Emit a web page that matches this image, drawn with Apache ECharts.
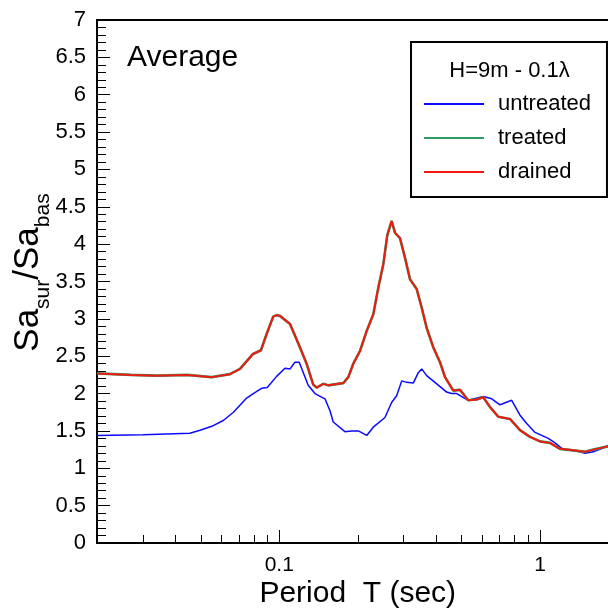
<!DOCTYPE html>
<html><head><meta charset="utf-8">
<script src="https://cdn.jsdelivr.net/npm/echarts@6/dist/echarts.min.js"></script>
<style>html,body{margin:0;padding:0;background:#fff}#c{width:608px;height:609px}</style>
</head><body><div id="c"></div>
<script>
// ---- data ----
const periodsUntreated = [0.02,0.03,0.0454,0.0497,0.0558,0.061,0.0667,0.075,0.0795,0.0855,0.0899,0.0977,0.1052,0.11,0.1148,0.1193,0.1291,0.1371,0.1497,0.1565,0.1611,0.1786,0.1896,0.2011,0.2165,0.2294,0.2543,0.2698,0.282,0.2949,0.3081,0.3266,0.3413,0.3518,0.3675,0.4017,0.4385,0.4584,0.479,0.5307,0.6059,0.653,0.7024,0.7787,0.8381,0.8893,0.9568,1.076,1.142,1.228,1.383,1.488,1.602,1.803,2.0];
const untreated = [1.44,1.45,1.47,1.51,1.57,1.64,1.75,1.94,2.00,2.07,2.08,2.23,2.34,2.33,2.42,2.42,2.11,2.00,1.93,1.77,1.62,1.49,1.50,1.50,1.44,1.55,1.68,1.88,1.97,2.17,2.15,2.14,2.28,2.33,2.24,2.13,2.02,2.00,2.00,1.91,1.96,1.93,1.85,1.91,1.71,1.60,1.48,1.40,1.34,1.25,1.23,1.20,1.22,1.29,1.33];
const periodsTreated = [0.02,0.027,0.034,0.0443,0.0551,0.0647,0.0707,0.0793,0.0851,0.0895,0.0948,0.0977,0.1006,0.11,0.12,0.1273,0.135,0.1391,0.1475,0.1541,0.176,0.184,0.1923,0.204,0.2165,0.2294,0.2399,0.2506,0.2596,0.2698,0.278,0.2904,0.3035,0.3172,0.3365,0.3518,0.3675,0.3896,0.4134,0.4322,0.4648,0.4934,0.5307,0.5719,0.6059,0.643,0.6918,0.767,0.8381,0.9155,1.0,1.092,1.193,1.342,1.488,1.602,1.803,2.0];
const treated = [2.27,2.25,2.24,2.25,2.22,2.26,2.33,2.53,2.58,2.80,3.03,3.05,3.04,2.93,2.62,2.40,2.12,2.08,2.13,2.11,2.14,2.22,2.40,2.57,2.84,3.06,3.42,3.73,4.12,4.31,4.15,4.08,3.82,3.53,3.40,3.15,2.88,2.62,2.42,2.22,2.04,2.05,1.91,1.92,1.95,1.82,1.69,1.66,1.51,1.42,1.36,1.34,1.26,1.24,1.22,1.25,1.29,1.32];
const periodsDrained = periodsTreated.slice();
const drained = [2.27,2.25,2.24,2.25,2.22,2.26,2.33,2.53,2.58,2.80,3.03,3.05,3.04,2.93,2.62,2.40,2.12,2.08,2.13,2.11,2.14,2.22,2.40,2.57,2.84,3.06,3.42,3.73,4.12,4.31,4.15,4.08,3.82,3.53,3.40,3.15,2.88,2.62,2.42,2.22,2.04,2.05,1.91,1.92,1.95,1.82,1.69,1.66,1.51,1.42,1.36,1.34,1.26,1.24,1.22,1.25,1.29,1.32];
const seriesNames = ['untreated','treated','drained'];
const xMajorTicks = [0.1, 1];
const xMinorTicks = [0.03,0.04,0.05,0.06,0.07,0.08,0.09,0.2,0.3,0.4,0.5,0.6,0.7,0.8,0.9];
const legendTitle = 'H=9m - 0.1\u03bb';
const panelTitle = 'Average';

const FF = '"Liberation Sans", Arial, sans-serif';
const pair = (xs, ys) => xs.map((x, i) => [x, ys[i]]);

const chart = echarts.init(document.getElementById('c'), null, {renderer: 'canvas'});
chart.setOption({
  animation: false,
  backgroundColor: '#fff',
  grid: {left: 97, right: -10.5, top: 20, bottom: 66, show: true, borderColor: '#000', borderWidth: 2,
         backgroundColor: 'transparent', containLabel: false, outerBoundsMode: 'none'},
  xAxis: [{
    type: 'log', logBase: 10, min: 0.02, max: 2, gridIndex: 0, position: 'bottom',
    axisLine: {show: true, lineStyle: {color: '#000', width: 2}},
    axisTick: {show: true, inside: true, length: 13, customValues: xMajorTicks, lineStyle: {color: '#000', width: 1}},
    axisLabel: {show: true, customValues: xMajorTicks, fontSize: 21, fontFamily: FF, color: '#000', margin: 12,
                formatter: v => String(+v.toPrecision(3))},
    splitLine: {show: false}, minorTick: {show: false},
    name: 'Period  T (sec)', nameLocation: 'middle', nameGap: 36, nameMoveOverlap: false,
    nameTextStyle: {fontSize: 30, fontFamily: FF, color: '#000', lineHeight: 30}
  }, {
    type: 'log', logBase: 10, min: 0.02, max: 2, gridIndex: 0, position: 'bottom',
    axisLine: {show: false}, axisLabel: {show: false}, splitLine: {show: false},
    axisTick: {show: true, inside: true, length: 8, customValues: xMinorTicks, lineStyle: {color: '#000', width: 1}}
  }],
  yAxis: {
    type: 'value', min: 0, max: 7, interval: 0.5,
    axisLine: {show: true, lineStyle: {color: '#000', width: 2}},
    axisTick: {show: true, inside: true, length: 13, lineStyle: {color: '#000', width: 1}},
    minorTick: {show: true, splitNumber: 5, length: 9, lineStyle: {color: '#000', width: 1}},
    axisLabel: {fontSize: 22, fontFamily: FF, color: '#000', margin: 11},
    splitLine: {show: false},
    name: '{a|Sa}{s|sur}{a|/Sa}{s|bas}', nameLocation: 'middle', nameGap: 43, nameRotate: 90, nameMoveOverlap: false,
    nameTextStyle: {color: '#000', fontFamily: FF, padding: [0, 0, 0, 18], rich: {
      a: {fontSize: 35, fontFamily: FF, color: '#000', lineHeight: 35, verticalAlign: 'top'},
      s: {fontSize: 21, fontFamily: FF, color: '#000', lineHeight: 43, verticalAlign: 'bottom'}
    }}
  },
  legend: {
    show: true, orient: 'vertical', left: 411, top: 42, data: seriesNames,
    icon: 'rect', itemWidth: 60, itemHeight: 2, itemGap: 10,
    padding: [50, 16, 13, 13], borderColor: '#000', borderWidth: 2, backgroundColor: '#fff',
    textStyle: {fontSize: 22, fontFamily: FF, color: '#000', lineHeight: 24, padding: [0, 0, 0, 9]},
    selectedMode: false
  },
  graphic: [
    {type: 'text', x: 127, y: 58, z: 10, style: {text: panelTitle, font: '30px ' + FF, fill: '#000', align: 'left', verticalAlign: 'middle'}},
    {type: 'text', x: 509.5, y: 71, z: 10, style: {text: legendTitle, font: '22px ' + FF, fill: '#000', align: 'center', verticalAlign: 'middle'}}
  ],
  series: [
    {name: seriesNames[0], type: 'line', xAxisIndex: 0, data: pair(periodsUntreated, untreated), symbol: 'none',
     color: '#0a0aff', lineStyle: {color: '#0a0aff', width: 1.5}, z: 2},
    {name: seriesNames[1], type: 'line', xAxisIndex: 0, data: pair(periodsTreated, treated), symbol: 'none',
     color: '#2e9a64', lineStyle: {color: '#2e9a64', width: 2.6}, z: 3},
    {name: seriesNames[2], type: 'line', xAxisIndex: 0, data: pair(periodsDrained, drained), symbol: 'none',
     color: '#f01a10', lineStyle: {color: '#f01a10', width: 2}, z: 4}
  ]
});
</script></body></html>
